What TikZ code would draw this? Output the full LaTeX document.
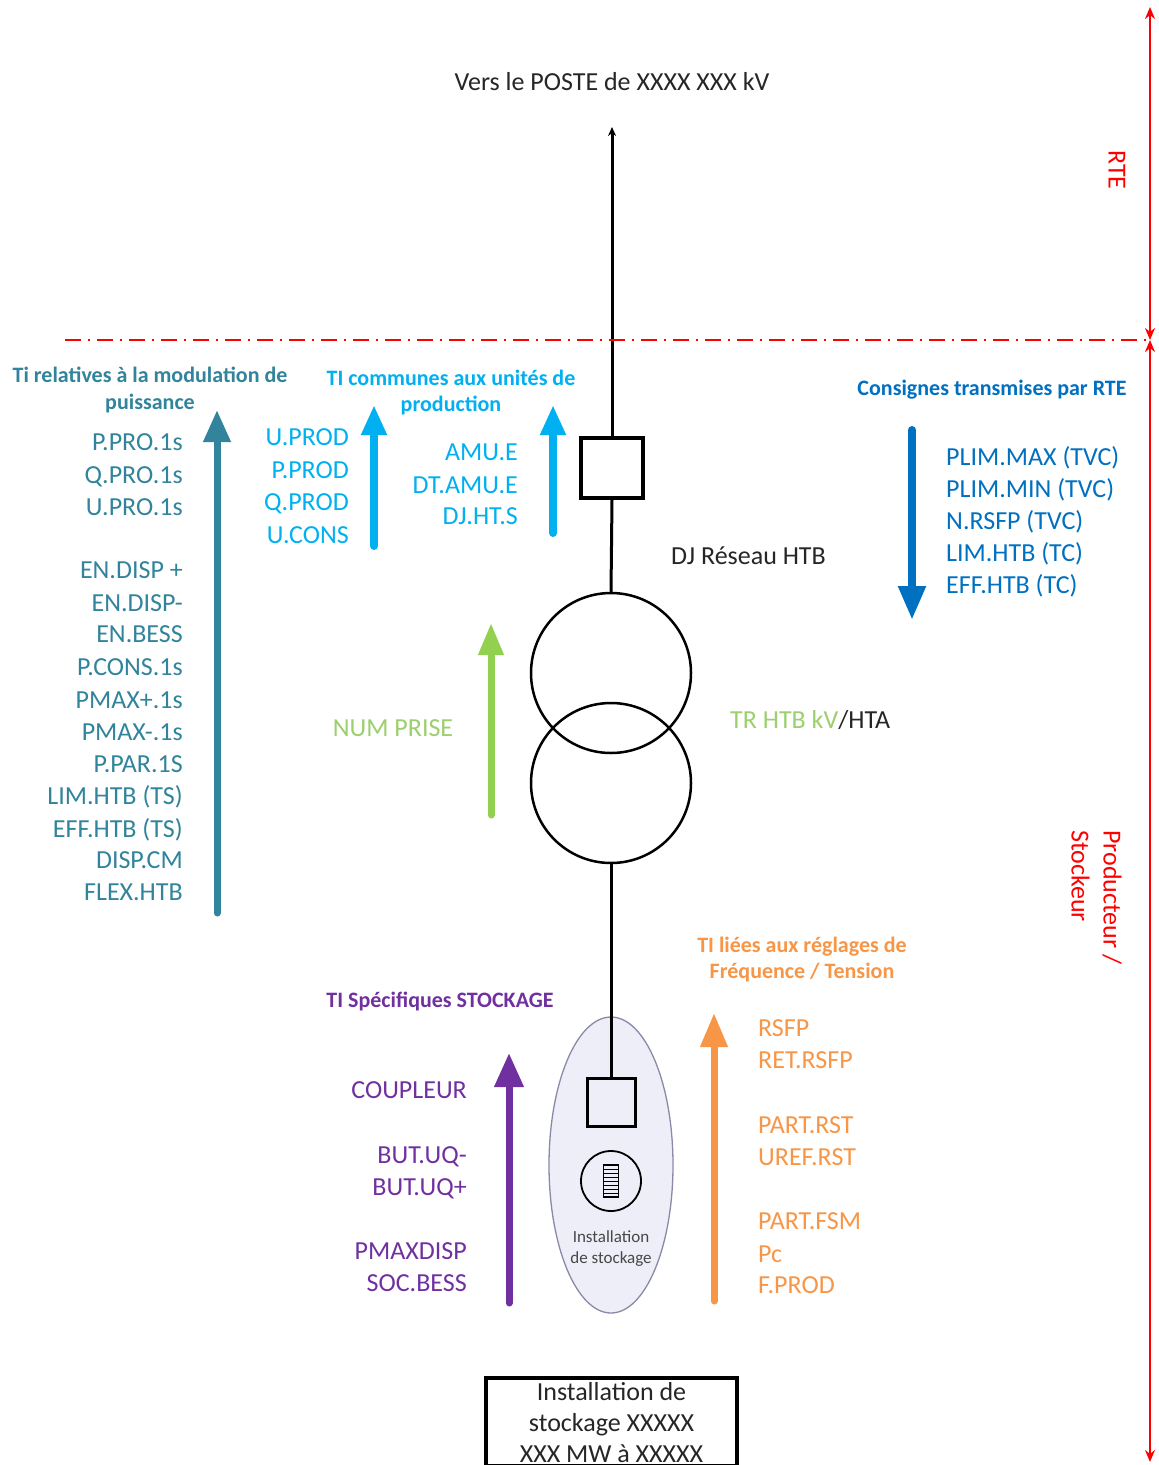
\documentclass[tikz,border=0pt]{standalone}
\usepackage{fontspec}
\setmainfont{Carlito}
\usetikzlibrary{arrows.meta,shapes.geometric}
\definecolor{cteal}{HTML}{31849B}
\definecolor{clblue}{HTML}{00B0F0}
\definecolor{cblue}{HTML}{0070C0}
\definecolor{cgreen}{HTML}{92D050}
\definecolor{cgreentxt}{HTML}{9CCF6E}
\definecolor{cpurple}{HTML}{7030A0}
\definecolor{corange}{HTML}{F79646}
\definecolor{cred}{HTML}{FF0000}
\definecolor{cdark}{HTML}{262626}
\definecolor{cellfill}{HTML}{EEEEF8}
\definecolor{celldraw}{HTML}{8A8AA8}
\tikzset{
  lst/.style={font=\fontsize{26}{32.3}\selectfont, inner sep=0pt},
  hdr/.style={font=\bfseries\fontsize{22}{26.8}\selectfont, inner sep=0pt},
  fat/.style={line width=7pt, line cap=round, -{Triangle[width=26pt,length=32pt]}},
  wire/.style={line width=3pt, draw=black},
  redarr/.style={line width=2pt, draw=cred, {Stealth[length=12pt,width=10pt]}-{Stealth[length=12pt,width=10pt]}},
}
\begin{document}
\begin{tikzpicture}[x=1pt,y=-1pt]
\clip (0,0) rectangle (1159,1465);
\fill[white] (0,0) rectangle (1159,1465);

% title and main line
\node[font=\fontsize{26}{32}\selectfont, text=cdark, inner sep=0pt, anchor=base] (title) at (612,90.4) {Vers le POSTE de XXXX XXX kV};
\coordinate (top) at (612,127);
\node[draw, line width=3.5pt, minimum width=62pt, minimum height=60pt, inner sep=0pt] (brk) at (612,468) {};
\node[draw, circle, line width=2.5pt, minimum size=160pt, inner sep=0pt] (t1) at (611,673) {};
\node[draw, circle, line width=2.5pt, minimum size=160pt, inner sep=0pt] (t2) at (611,783) {};
\node[ellipse, draw=celldraw, fill=cellfill, line width=1.3pt, minimum width=124pt, minimum height=296pt, inner sep=0pt] (ell) at (611,1165) {};
\node[draw, line width=3pt, minimum width=48pt, minimum height=48pt, inner sep=0pt] (sbox) at (611,1102) {};
\node[draw, circle, line width=1.8pt, minimum size=60pt, inner sep=0pt] (bat) at (611,1181) {};
\draw[line width=1.2pt] (603.5,1165) rectangle (618.5,1197);
\foreach \yy in {1169,1173,...,1193} \draw[line width=0.9pt] (603.5,\yy) -- (618.5,\yy);
\node[font=\fontsize{17}{21}\selectfont, text=cdark!85, inner sep=0pt, anchor=base] (instA) at (611,1242) {Installation};
\node[font=\fontsize{17}{21}\selectfont, text=cdark!85, inner sep=0pt, anchor=base] (instB) at (611,1263) {de stockage};

\draw[line width=3pt, -{Stealth[length=9pt,width=8pt]}] (brk.north) -- (top);
\draw[wire] (brk.south) -- (t1.north);
\draw[wire] (t2.south) -- (sbox.north);

\node[draw, line width=4pt, anchor=north, minimum width=251pt, align=center, inner xsep=4pt, inner ysep=4pt, font=\fontsize{26}{31}\selectfont, text=cdark] (inst) at (611.5,1376) {Installation de\\stockage XXXXX\\XXX MW à XXXXX};

% separation and red arrows
\coordinate (dl) at (65,340);
\coordinate (dr) at (1146,340);
\draw[cred, line width=2pt, dash pattern=on 16pt off 7pt on 2pt off 7pt] (dl) -- (dr);
\coordinate (rA) at (1150,7);
\coordinate (rB) at (1150,340);
\coordinate (rC) at (1150,1462);
\draw[redarr] (rA) -- (rB);
\draw[redarr] (rB) -- (rC);
\node[font=\fontsize{26}{32}\selectfont, text=cred, rotate=-90, inner sep=0pt, anchor=base] (rte) at (1108.6,170) {RTE};
\node[font=\fontsize{26}{32}\selectfont, text=cred, rotate=-90, inner sep=0pt, anchor=base west] (prod) at (1103.6,830) {Producteur /};
\node[font=\fontsize{26}{32}\selectfont, text=cred, rotate=-90, inner sep=0pt, anchor=base west] (stock) at (1071.6,830) {Stockeur};

% teal group
\node[hdr, text=cteal, anchor=base] (hA1) at (150,382) {Ti relatives à la modulation de};
\node[hdr, text=cteal, anchor=base] (hA2) at (150,409) {puissance};
\coordinate (aA0) at (217,913);
\coordinate (aA1) at (217,410);
\draw[fat, cteal] (aA0) -- (aA1);
\foreach \t/\y [count=\i] in {P.PRO.1s/442, Q.PRO.1s/475, U.PRO.1s/507, EN.DISP +/570, EN.DISP-/603, EN.BESS/634, P.CONS.1s/667, PMAX+.1s/700, PMAX-.1s/732, P.PAR.1S/764, LIM.HTB (TS)/796, EFF.HTB (TS)/829, DISP.CM/860, FLEX.HTB/892}
  \node[lst, text=cteal, anchor=base east] (tA\i) at (183,\y+8.4) {\t};

% light blue group
\node[hdr, text=clblue, anchor=base] (hB1) at (451,385) {TI communes aux unités de};
\node[hdr, text=clblue, anchor=base] (hB2) at (451,411) {production};
\coordinate (aB0) at (374,546);
\coordinate (aB1) at (374,405);
\draw[fat, clblue, line width=8pt, -{Triangle[width=24pt,length=30pt]}] (aB0) -- (aB1);
\coordinate (aC0) at (553,533);
\coordinate (aC1) at (553,405);
\draw[fat, clblue, line width=8pt, -{Triangle[width=24pt,length=30pt]}] (aC0) -- (aC1);
\foreach \t/\y [count=\i] in {U.PROD/437, P.PROD/470, Q.PROD/502, U.CONS/535}
  \node[lst, text=clblue, anchor=base east] (tB\i) at (349,\y+8.4) {\t};
\foreach \t/\y [count=\i] in {AMU.E/452, DT.AMU.E/485, DJ.HT.S/516}
  \node[lst, text=clblue, anchor=base east] (tC\i) at (518,\y+8.4) {\t};

% blue group
\node[hdr, text=cblue, anchor=base] (hD1) at (992,395) {Consignes transmises par RTE};
\coordinate (aD0) at (912,430);
\coordinate (aD1) at (912,620);
\draw[fat, cblue, line width=8pt, -{Triangle[width=26pt,length=34pt]}] (aD0) -- (aD1);
\foreach \t/\y [count=\i] in {PLIM.MAX (TVC)/457, PLIM.MIN (TVC)/489, N.RSFP (TVC)/521, LIM.HTB (TC)/553, EFF.HTB (TC)/585}
  \node[lst, text=cblue, anchor=base west] (tD\i) at (946,\y+8.4) {\t};

\node[lst, text=cdark, anchor=base west] (dj) at (671,564.4) {DJ Réseau HTB};

% green group
\coordinate (aE0) at (491,815);
\coordinate (aE1) at (491,623);
\draw[fat, cgreen, -{Triangle[width=24pt,length=32pt]}] (aE0) -- (aE1);
\node[lst, text=cgreentxt, anchor=base] (num) at (393,736.4) {NUM PRISE};
\node[lst, anchor=base west] (tr) at (730,728.4) {\textcolor{cgreentxt}{TR HTB kV}\textcolor{cdark}{/HTA}};

% purple group
\node[hdr, text=cpurple, anchor=base] (hF1) at (440,1007) {TI Spécifiques STOCKAGE};
\coordinate (aF0) at (509,1303);
\coordinate (aF1) at (509,1053);
\draw[fat, cpurple, -{Triangle[width=28pt,length=34pt]}] (aF0) -- (aF1);
\foreach \t/\y [count=\i] in {COUPLEUR/1090, BUT.UQ-/1155, BUT.UQ+/1187, PMAXDISP/1251, SOC.BESS/1283}
  \node[lst, text=cpurple, anchor=base east] (tF\i) at (467,\y+8.4) {\t};

% orange group
\node[hdr, text=corange, anchor=base] (hG1) at (802,952) {TI liées aux réglages de};
\node[hdr, text=corange, anchor=base] (hG2) at (802,978) {Fréquence / Tension};
\coordinate (aG0) at (714,1301);
\coordinate (aG1) at (714,1013);
\draw[fat, corange, -{Triangle[width=26pt,length=34pt]}] (aG0) -- (aG1);
\foreach \t/\y [count=\i] in {RSFP/1028, RET.RSFP/1060, PART.RST/1125, UREF.RST/1157, PART.FSM/1221, Pc/1254, F.PROD/1285}
  \node[lst, text=corange, anchor=base west] (tG\i) at (758,\y+8.4) {\t};
\end{tikzpicture}
\end{document}
